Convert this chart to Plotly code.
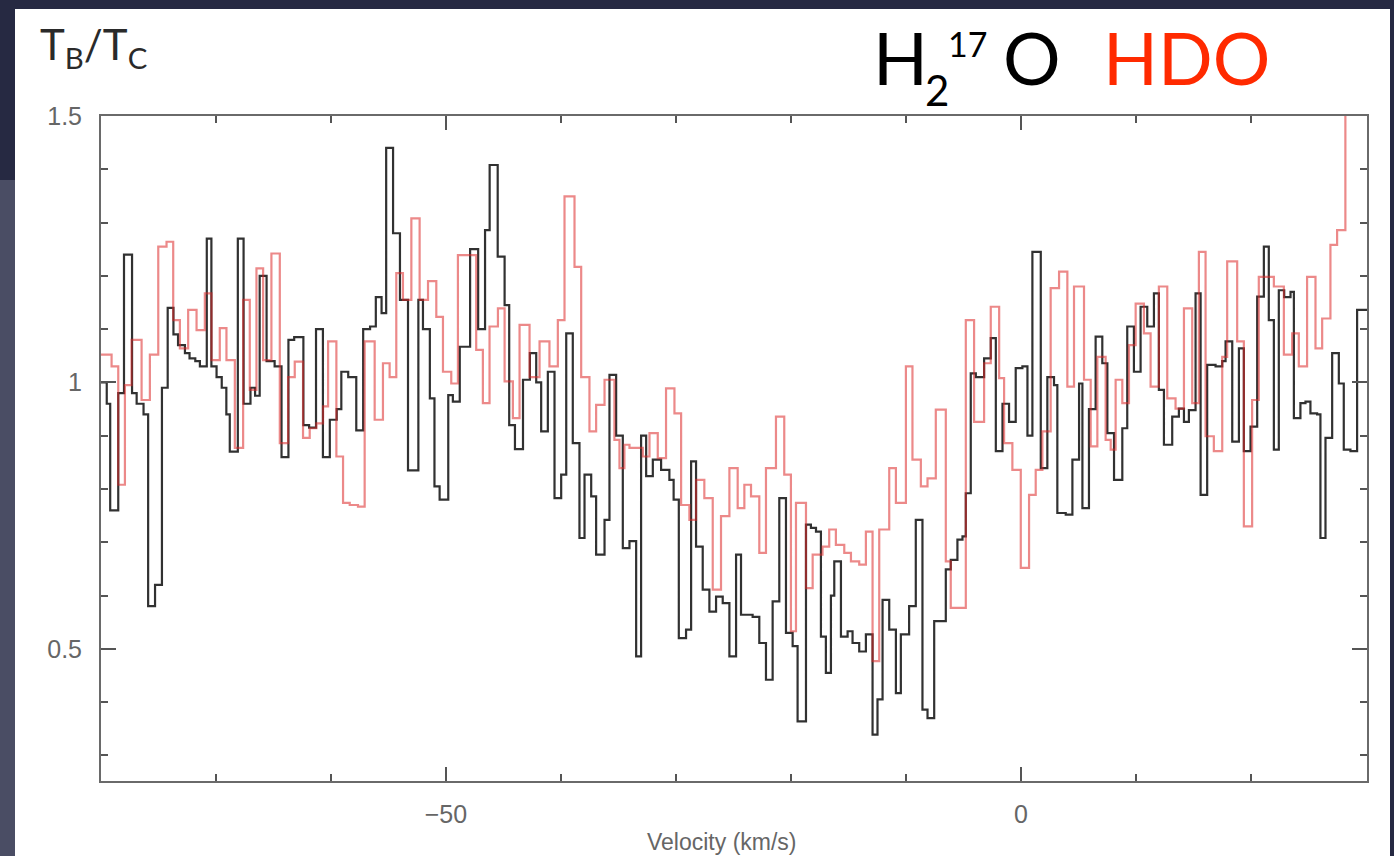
import plotly.graph_objects as go

# ---- data: step spectra (left edge velocity km/s, T_B/T_C) ----
h217o_v = [-80.0, -79.5, -79.2, -78.5, -78.0, -77.3, -76.9, -76.3, -75.9, -75.3, -74.7, -74.2, -73.7, -73.3,
           -72.7, -72.3, -71.8, -71.4, -70.8, -70.4, -69.95, -69.5, -69.1, -68.8, -68.1, -67.6, -67.0, -66.6,
           -66.2, -65.6, -64.9, -64.3, -63.7, -63.2, -62.4, -61.9, -61.3, -60.7, -60.1, -59.5, -59.1, -58.5,
           -57.8, -57.2, -56.6, -56.1, -55.6, -55.2, -54.6, -54.0, -53.3, -52.4, -52.0, -51.4, -51.0, -50.55,
           -49.8, -49.4, -48.8, -47.9, -47.2, -46.6, -46.2, -45.5, -44.9, -44.5, -44.0, -43.3, -42.7, -42.15,
           -41.72, -41.14, -40.56, -39.98, -39.54, -38.97, -38.39, -37.95, -37.37, -36.94, -36.21, -35.78,
           -35.2, -34.62, -34.04, -33.46, -33.03, -32.59, -32.01, -31.29, -30.57, -30.2, -29.75, -29.12,
           -28.68, -28.25, -27.67, -27.09, -26.51, -25.93, -25.35, -24.77, -24.34, -23.33, -22.75, -22.17,
           -21.59, -21.01, -20.43, -19.85, -19.42, -18.69, -18.26, -17.82, -17.39, -16.96, -16.52, -16.23,
           -15.65, -15.07, -14.64, -14.06, -13.48, -12.9, -12.47, -12.03, -11.45, -10.87, -10.44, -9.72,
           -9.14, -8.56, -8.12, -7.54, -6.53, -6.1, -5.52, -5.08, -4.79, -4.36, -3.92, -3.2, -2.62, -2.18,
           -1.6, -1.03, -0.45, 0.13, 0.57, 1.0, 1.73, 2.3, 2.88, 3.17, 3.9, 4.48, 5.06, 5.35, 5.92, 6.5,
           7.08, 7.52, 8.1, 8.82, 9.25, 9.83, 10.41, 10.99, 11.57, 12.0, 12.44, 13.16, 13.74, 14.18, 14.61,
           15.19, 15.63, 16.2, 16.93, 17.51, 17.8, 18.38, 18.96, 19.39, 19.97, 20.55, 21.13, 21.56, 22.0,
           22.43, 22.9, 23.45, 23.74, 24.31, 24.75, 25.18, 25.76, 26.05, 26.49, 27.07, 27.65, 28.08, 28.66,
           29.24, 30.1]
h217o_t = [1.00, 0.96, 0.76, 0.98, 1.24, 0.98, 0.96, 0.94, 0.58, 0.62, 0.99, 1.14, 1.09, 1.07,
           1.055, 1.045, 1.04, 1.03, 1.27, 1.03, 1.01, 0.99, 0.94, 0.87, 1.27, 0.96, 0.99, 0.975,
           1.20, 1.04, 1.03, 0.86, 1.08, 1.085, 0.92, 0.915, 1.10, 0.86, 0.93, 0.95, 1.02, 1.01,
           0.91, 1.10, 1.105, 1.16, 1.13, 1.44, 1.28, 1.155, 0.835, 1.155, 1.10, 0.97, 0.805, 0.78,
           0.976, 0.964, 1.067, 1.25, 1.10, 1.286, 1.408, 1.236, 1.145, 0.92, 0.875, 1.005, 1.055, 1.00,
           0.908, 1.02, 0.783, 0.827, 1.092, 0.886, 0.708, 0.827, 0.786, 0.677, 0.742, 1.014,
           0.90, 0.689, 0.702, 0.486, 0.90, 0.824, 0.855, 0.836, 0.817, 0.78, 0.52, 0.536,
           0.852, 0.692, 0.611, 0.57, 0.598, 0.586, 0.486, 0.677, 0.564, 0.56, 0.511, 0.442,
           0.589, 0.783, 0.53, 0.505, 0.364, 0.733, 0.727, 0.72, 0.523, 0.455, 0.60, 0.664,
           0.523, 0.533, 0.511, 0.495, 0.527, 0.339, 0.405, 0.592, 0.536, 0.417, 0.527, 0.58,
           0.742, 0.386, 0.37, 0.552, 0.649, 0.667, 0.705, 0.711, 0.792, 1.017, 1.01, 1.045, 1.083, 0.871,
           0.96, 0.926, 1.027, 1.03, 0.90, 1.245, 0.839, 1.01, 0.995, 0.755, 0.752, 0.855, 0.998, 0.764, 0.95, 1.086,
           1.036, 0.905, 0.817, 0.914, 1.105, 1.02, 1.142, 1.105, 1.167, 0.986, 0.883, 0.936, 0.951, 0.926, 0.948,
           1.167, 0.789, 1.033, 1.03, 1.04, 1.077, 0.889, 1.064, 0.871, 0.917, 1.161, 1.255, 1.117, 0.874,
           1.173, 1.16, 1.17, 0.933, 0.961, 0.964, 0.942, 0.94, 0.708, 0.896, 1.055, 0.998, 0.874, 0.871,
           1.136, 1.136]

hdo_v = [-80.0, -79.08, -78.5, -77.92, -77.34, -76.47, -75.75, -75.02, -74.3, -73.72, -73.14, -72.42, -71.69,
         -70.97, -70.39, -69.67, -69.09, -68.36, -67.64, -67.06, -66.48, -65.9, -65.18, -64.45, -63.73, -63.15,
         -62.43, -61.85, -61.27, -60.69, -60.25, -59.53, -58.95, -58.37, -57.65, -57.07, -56.2, -55.48, -54.9,
         -54.32, -53.74, -53.01, -52.29, -51.56, -50.84, -50.26, -49.54, -48.96, -47.37, -46.79, -46.21, -45.48,
         -44.9, -44.18, -43.6, -42.73, -41.86, -41.0, -40.27, -39.69, -38.82, -38.24, -37.52, -36.94, -36.21,
         -35.35, -34.91, -34.48, -34.04, -32.88, -32.3, -31.58, -30.86, -30.13, -29.55, -28.83, -28.25, -27.53,
         -26.8, -26.08, -25.35, -24.63, -24.05, -23.47, -22.75, -22.17, -21.3, -20.58, -20.0, -19.56, -18.69,
         -18.11, -17.25, -16.67, -16.09, -15.36, -14.78, -14.06, -13.48, -12.9, -12.32, -11.45, -10.87, -10.0,
         -9.43, -8.7, -8.12, -7.4, -6.53, -6.1, -4.79, -4.07, -3.2, -2.62, -1.89, -1.46, -0.74, -0.01, 0.71,
         1.29, 1.87, 2.59, 3.32, 4.04, 4.62, 5.49, 6.07, 6.65, 7.37, 7.81, 8.24, 8.82, 9.4, 9.98, 10.7, 11.28,
         12.0, 12.73, 13.45, 14.18, 14.9, 15.48, 16.06, 16.78, 17.51, 17.94, 18.81, 19.39, 20.11, 20.69, 22.0,
         22.87, 23.59, 24.17, 24.89, 25.62, 26.2, 26.92, 27.5, 28.22, 30.1]
hdo_t = [1.052, 1.03, 0.808, 0.995, 1.08, 0.967, 1.052, 1.255, 1.264, 1.117, 1.064, 1.136, 1.098,
         1.167, 1.042, 1.102, 1.042, 0.877, 1.155, 0.986, 1.214, 1.042, 1.242, 0.886, 1.01, 1.039,
         0.896, 0.914, 0.923, 0.955, 1.077, 0.861, 0.774, 0.77, 0.767, 1.077, 0.93, 1.036, 1.01,
         1.205, 1.155, 1.308, 1.155, 1.19, 1.123, 1.02, 0.998, 1.239, 1.061, 0.961, 1.105, 1.139,
         1.002, 0.933, 1.108, 1.01, 1.077, 1.03, 1.117, 1.349, 1.217, 1.01, 0.908, 0.958, 1.005,
         0.892, 0.839, 0.883, 0.877, 0.861, 0.905, 0.858, 0.989, 0.942, 0.77, 0.742, 0.817, 0.783,
         0.611, 0.749, 0.839, 0.764, 0.808, 0.786, 0.68, 0.839, 0.936, 0.827, 0.533, 0.774, 0.614,
         0.677, 0.692, 0.724, 0.695, 0.68, 0.664, 0.658, 0.72, 0.477, 0.724, 0.839, 0.774, 1.03,
         0.855, 0.805, 0.82, 0.949, 0.664, 0.577, 1.117, 0.926, 1.036, 1.142, 1.008, 0.886, 0.836, 0.652, 0.789,
         0.836, 0.908, 1.177, 1.208, 0.992, 1.18, 1.005, 0.88, 1.048, 0.892, 0.874, 1.005, 0.961, 1.07, 1.148, 1.092, 0.992,
         1.18, 0.97, 0.951, 1.139, 0.961, 1.245, 0.899, 0.871, 1.048, 1.227, 1.077, 0.73, 0.967, 1.198, 1.18,
         1.052, 1.092, 1.03, 1.198, 1.064, 1.12, 1.258, 1.286, 1.6, 1.6]

y_tickvals = [0.5, 1.0, 1.5]
y_ticktext = ["0.5", "1", "1.5"]
x_tickvals = [-50, 0]
x_ticktext = ["\u221250", "0"]

W, H = 1394, 856
L, R, T, B = 101, 27, 116, 75
pw, ph = W - L - R, H - T - B


def px(x):
    return (x - L) / pw


def py(y):
    return (H - B - y) / ph


fig = go.Figure()
fig.add_trace(go.Scatter(x=h217o_v, y=h217o_t, mode="lines",
                         line=dict(shape="hv", color="rgba(20,20,20,0.88)", width=2.2),
                         name="H2 17O", hoverinfo="skip"))
fig.add_trace(go.Scatter(x=hdo_v, y=hdo_t, mode="lines",
                         line=dict(shape="hv", color="rgba(220,40,40,0.55)", width=2.2),
                         name="HDO", hoverinfo="skip"))

axis_common = dict(showline=True, linecolor="#6a6a6a", linewidth=2, mirror="allticks", ticks="inside",
                   tickcolor="#555", tickwidth=2, showgrid=False, zeroline=False,
                   tickfont=dict(family="Liberation Sans, Arial, sans-serif", size=25, color="#666"))

fig.update_xaxes(range=[-80, 30.1], tickvals=x_tickvals, ticktext=x_ticktext, ticklen=14,
                 minor=dict(tickvals=[-70, -60, -40, -30, -20, -10, 10, 20], ticklen=7, tickcolor="#555",
                            tickwidth=2, ticks="inside"),
                 ticklabelstandoff=10, **axis_common)
fig.update_yaxes(range=[0.252, 1.5], tickvals=y_tickvals, ticktext=y_ticktext, ticklen=15,
                 minor=dict(tickvals=[0.3, 0.4, 0.6, 0.7, 0.8, 0.9, 1.1, 1.2, 1.3, 1.4], ticklen=7,
                            tickcolor="#555", tickwidth=2, ticks="inside"),
                 ticklabelstandoff=12, **axis_common)

shapes = [
    dict(type="rect", xref="paper", yref="paper", x0=px(15), x1=px(1390), y0=py(856), y1=py(9),
         fillcolor="white", line=dict(width=0), layer="below"),
    dict(type="rect", xref="paper", yref="paper", x0=px(0), x1=px(15), y0=py(856), y1=py(180),
         fillcolor="#4a4d64", line=dict(width=0), layer="below"),
]

big = dict(family="Lato, sans-serif", size=72, color="black")
annotations = [
    dict(text="T<sub>B</sub>/T<sub>C</sub>", xref="paper", yref="paper", x=px(38), y=py(47), xanchor="left",
         yanchor="middle", showarrow=False, font=dict(family="Lato, sans-serif", size=42, color="#2a2a2a")),
    dict(text="H", xref="paper", yref="paper", x=px(871), y=py(57), xanchor="left", yanchor="middle",
         showarrow=False, font=big),
    dict(text="2", xref="paper", yref="paper", x=px(923), y=py(90), xanchor="left", yanchor="middle",
         showarrow=False, font=dict(family="Lato, sans-serif", size=42, color="black")),
    dict(text="17", xref="paper", yref="paper", x=px(946), y=py(43), xanchor="left", yanchor="middle",
         showarrow=False, font=dict(family="Lato, sans-serif", size=34, color="black")),
    dict(text="O", xref="paper", yref="paper", x=px(1001), y=py(57), xanchor="left", yanchor="middle",
         showarrow=False, font=big),
    dict(text="HDO", xref="paper", yref="paper", x=px(1101), y=py(57), xanchor="left",
         yanchor="middle", showarrow=False, font=dict(family="Lato, sans-serif", size=72, color="#ff2a00")),
    dict(text="Velocity (km/s)", xref="paper", yref="paper", x=px(722), y=py(842), xanchor="center",
         yanchor="middle", showarrow=False,
         font=dict(family="Liberation Sans, Arial, sans-serif", size=23, color="#666")),
]

fig.update_layout(width=W, height=H, margin=dict(l=L, r=R, t=T, b=B, autoexpand=False),
                  paper_bgcolor="#262942", plot_bgcolor="white", showlegend=False,
                  shapes=shapes, annotations=annotations)

fig.write_html("out.html", config={"displayModeBar": False},
               post_script="document.body.style.margin='0';document.body.style.background='#262942';")
